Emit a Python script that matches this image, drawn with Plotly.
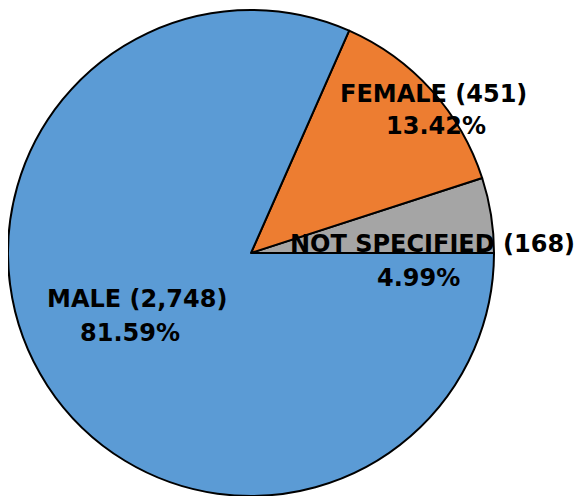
import plotly.graph_objects as go

labels = ["NOT SPECIFIED", "FEMALE", "MALE"]
counts = [168, 451, 2748]
percent_labels = ["4.99%", "13.42%", "81.59%"]
colors = ["#A5A5A5", "#ED7D31", "#5B9BD5"]

W, H = 582, 496
OFF = 8  # page body margin offset

start_rot = 90 - 360 * counts[0] / sum(counts)

fig = go.Figure(go.Pie(
    labels=labels,
    values=counts,
    sort=False,
    direction="counterclockwise",
    rotation=start_rot,
    marker=dict(colors=colors, line=dict(color="#000000", width=2)),
    textinfo="none",
    hoverinfo="label+value",
    domain=dict(x=[(8 - OFF) / W, (494 - OFF) / W], y=[OFF / H, (H - 10 + OFF) / H]),
    showlegend=False,
))

# label placement (pixel centres of each line in the target image)
label_pos = {
    "MALE": ((137, 299), (130, 333)),
    "FEMALE": ((433, 94), (436, 126)),
    "NOT SPECIFIED": ((432, 244), (418, 278)),
}

annotations = []
for lab, cnt, pct in zip(labels, counts, percent_labels):
    (x1, y1), (x2, y2) = label_pos[lab]
    for txt, (px, py) in ((f"{lab} ({cnt:,})", (x1, y1)), (pct, (x2, y2))):
        annotations.append(dict(
            text=f"<b>{txt}</b>", x=(px - OFF) / W, y=(H - py + OFF) / H,
            xref="paper", yref="paper", xanchor="center", yanchor="middle",
            showarrow=False,
            font=dict(family="DejaVu Sans", size=24, color="#000000"),
        ))

fig.update_layout(
    width=W, height=H,
    margin=dict(l=0, r=0, t=0, b=0),
    paper_bgcolor="white",
    plot_bgcolor="white",
    annotations=annotations,
)

fig.write_html("out.html")
